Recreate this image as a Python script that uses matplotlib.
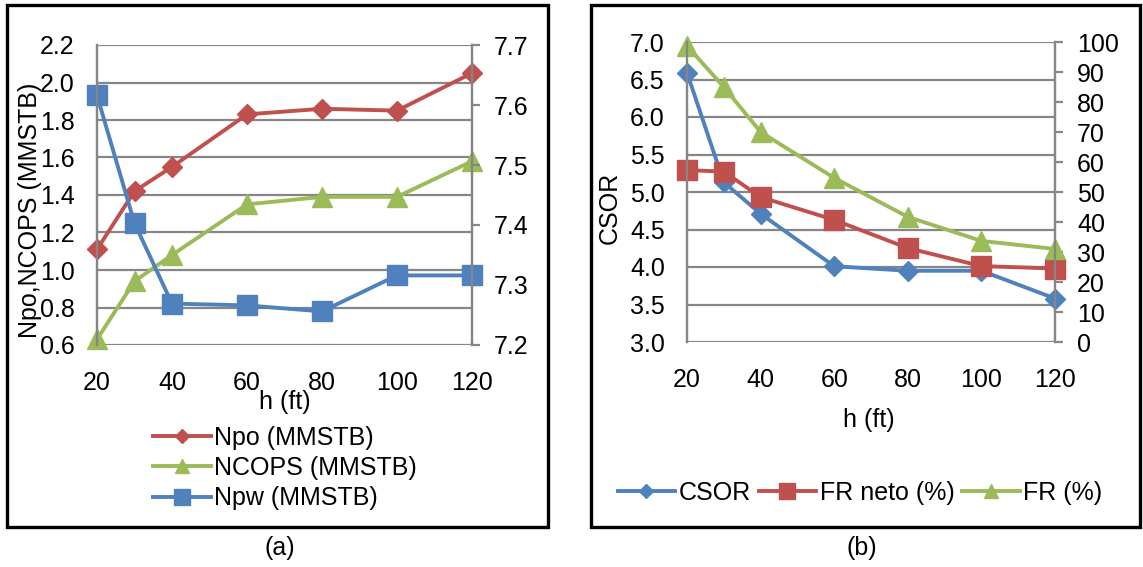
import numpy as np
import matplotlib
matplotlib.use("Agg")
import matplotlib.pyplot as plt
from matplotlib.patches import Rectangle

plt.rcParams['font.family'] = ['Liberation Sans', 'DejaVu Sans']

# data
h = [20, 30, 40, 60, 80, 100, 120]

# panel (a)
npo = [1.11, 1.42, 1.55, 1.83, 1.86, 1.85, 2.05]
ncops = [0.63, 0.94, 1.08, 1.35, 1.39, 1.39, 1.58]
npw = [7.616, 7.403, 7.269, 7.266, 7.256, 7.316, 7.316]

# panel (b)
csor = [6.59, 5.13, 4.71, 4.01, 3.95, 3.95, 3.58]
fr_neto = [57.3, 56.8, 48.3, 40.7, 31.3, 25.3, 24.5]
fr = [98.7, 85.0, 70.0, 54.7, 41.7, 33.7, 31.0]

xticks = [20, 40, 60, 80, 100, 120]

RED = '#C0504D'
GREEN = '#9BBB59'
BLUE = '#4F81BD'
GRID = '#868686'
FS = 18

W, H = 1143, 567
fig = plt.figure(figsize=(W / 100, H / 100), dpi=100)


def fx(px):
    return px / W


def fy(py):
    return 1 - py / H


def style_axes(ax, ax2, ylim, yticks, ylim2, yticks2, fmt, fmt2):
    ax.set_xlim(20, 120)
    ax.set_xticks(xticks)
    ax.set_ylim(*ylim)
    ax.set_yticks(yticks)
    ax.set_yticklabels([fmt.format(v) for v in yticks])
    ax2.set_ylim(*ylim2)
    ax2.set_yticks(yticks2)
    ax2.set_yticklabels([fmt2.format(v) for v in yticks2])
    ax.grid(axis='y', color=GRID, lw=1.6)
    ax.set_axisbelow(True)
    for a in (ax, ax2):
        a.spines['top'].set_visible(False)
        a.spines['bottom'].set_visible(False)
        a.spines['left'].set_color(GRID)
        a.spines['right'].set_color(GRID)
        a.spines['left'].set_linewidth(1.6)
        a.spines['right'].set_linewidth(1.6)
        a.patch.set_visible(False)
    ax.tick_params(axis='x', length=0, pad=19, labelsize=FS)
    ax.tick_params(axis='y', length=0, pad=16, labelsize=FS)
    ax2.tick_params(axis='y', length=6, width=1.6, color=GRID, pad=10, labelsize=FS)


line_kw = dict(lw=2.8, clip_on=False)

# ---------- panel (a) ----------
axa = fig.add_axes([fx(97), fy(345), fx(472) - fx(97), fy(45) - fy(345)])
axa2 = axa.twinx()
l1, = axa.plot(h, npo, color=RED, marker='D', ms=10, mec=RED, label='Npo (MMSTB)', **line_kw)
l2, = axa.plot(h, ncops, color=GREEN, marker='^', ms=14, mec=GREEN, label='NCOPS (MMSTB)', **line_kw)
l3, = axa2.plot(h, npw, color=BLUE, marker='s', ms=15, mec=BLUE, label='Npw (MMSTB)', **line_kw)
style_axes(axa, axa2, (0.6, 2.2), np.arange(0.6, 2.21, 0.2), (7.2, 7.7),
           np.arange(7.2, 7.71, 0.1), '{:.1f}', '{:.1f}')

fig.text(fx(30), fy(210), 'Npo,NCOPS (MMSTB)', rotation=90, ha='center', va='center', fontsize=FS)
fig.text(fx(285), fy(402), 'h (ft)', ha='center', va='center', fontsize=FS)
fig.legend([l1, l2, l3], [l.get_label() for l in (l1, l2, l3)],
           loc='center left', bbox_to_anchor=(fx(153), fy(468)), frameon=False,
           borderpad=0, borderaxespad=0,
           fontsize=FS, handlelength=2.3, handletextpad=0.15, labelspacing=0.25,
           markerscale=0.75)

# ---------- panel (b) ----------
axb = fig.add_axes([fx(687), fy(342), fx(1055) - fx(687), fy(42) - fy(342)])
axb2 = axb.twinx()
m1, = axb.plot(h, csor, color=BLUE, marker='D', ms=10, mec=BLUE, label='CSOR', **line_kw)
m2, = axb2.plot(h, fr_neto, color=RED, marker='s', ms=15, mec=RED, label='FR neto (%)', **line_kw)
m3, = axb2.plot(h, fr, color=GREEN, marker='^', ms=14, mec=GREEN, label='FR (%)', **line_kw)
style_axes(axb, axb2, (3.0, 7.0), np.arange(3.0, 7.01, 0.5), (0, 100),
           np.arange(0, 101, 10), '{:.1f}', '{:.0f}')

fig.text(fx(610), fy(208), 'CSOR', rotation=90, ha='center', va='center', fontsize=FS)
fig.text(fx(869), fy(420), 'h (ft)', ha='center', va='center', fontsize=FS)
fig.legend([m1, m2, m3], [l.get_label() for l in (m1, m2, m3)],
           loc='center', bbox_to_anchor=(fx(860), fy(493)), frameon=False, ncol=3,
           borderpad=0, borderaxespad=0,
           fontsize=FS, handlelength=2.3, handletextpad=0.15, columnspacing=0.3,
           markerscale=0.75)

# panel frames and captions
for x0, x1 in ((7, 548), (591, 1140)):
    fig.patches.append(Rectangle((fx(x0), fy(527)), fx(x1) - fx(x0), fy(5) - fy(527),
                                 transform=fig.transFigure, fill=False, ec='black', lw=2.4))
fig.text(fx(280), fy(548), '(a)', ha='center', va='center', fontsize=FS)
fig.text(fx(862), fy(548), '(b)', ha='center', va='center', fontsize=FS)

fig.savefig('out.png', dpi=100)
